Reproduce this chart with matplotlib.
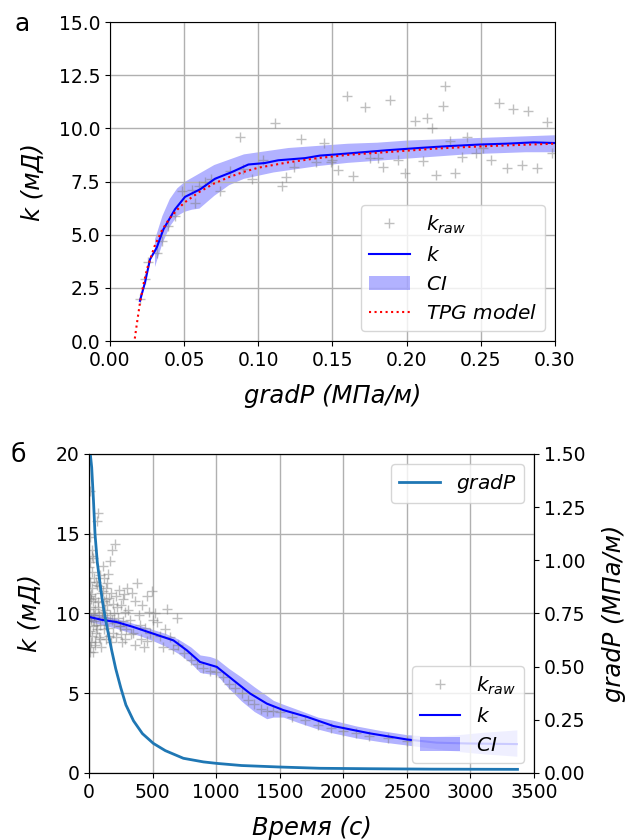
import matplotlib
matplotlib.use("Agg")
import matplotlib.pyplot as plt
import numpy as np
from matplotlib.ticker import FormatStrFormatter

# ---------------- panel a data ----------------
raw_gx = [0.0202, 0.0236, 0.0259, 0.032, 0.035, 0.0394, 0.0438, 0.0483, 0.0573, 0.055,
          0.064, 0.074, 0.081, 0.0877, 0.0955, 0.103, 0.111, 0.116, 0.119, 0.129,
          0.124, 0.139, 0.144, 0.149, 0.1596, 0.172, 0.189, 0.226, 0.2247, 0.2057,
          0.2135, 0.217, 0.262, 0.272, 0.282, 0.2945, 0.2405, 0.229, 0.1495, 0.154,
          0.164, 0.175, 0.181, 0.184, 0.194, 0.199, 0.211, 0.220, 0.2326, 0.237,
          0.247, 0.257, 0.2675, 0.2776, 0.2877, 0.2517, 0.298, 0.068, 0.090, 0.060]
raw_gk = [2.0, 2.9, 3.7, 4.15, 4.7, 5.4, 5.9, 7.05, 6.5, 7.1,
          7.5, 7.05, 8.0, 9.6, 7.6, 8.5, 10.25, 7.3, 7.7, 9.5,
          8.2, 8.4, 9.3, 8.4, 11.5, 11.0, 11.35, 11.97, 11.06, 10.33,
          10.5, 10.0, 11.2, 10.9, 10.8, 10.3, 9.6, 9.4, 8.5, 8.06,
          7.75, 8.6, 8.6, 8.2, 8.5, 7.9, 8.45, 7.83, 7.9, 8.66,
          8.85, 8.5, 8.14, 8.3, 8.14, 9.07, 8.85, 7.6, 8.1, 7.3]

k_gx = [0.0202, 0.0236, 0.027, 0.0315, 0.036, 0.0438, 0.0506, 0.0607, 0.0708, 0.082,
        0.0933, 0.1045, 0.1135, 0.1315, 0.1416, 0.1517, 0.164, 0.1866, 0.209, 0.227,
        0.2495, 0.2675, 0.2854, 0.30]
k_gk = [1.89, 2.75, 3.84, 4.39, 5.25, 6.19, 6.78, 7.13, 7.63, 7.94,
        8.30, 8.37, 8.50, 8.60, 8.72, 8.77, 8.84, 8.97, 9.08, 9.16,
        9.24, 9.28, 9.34, 9.31]

ci_gx = [0.030, 0.035, 0.040, 0.045, 0.050, 0.055, 0.060, 0.065, 0.070, 0.080, 0.090,
         0.100, 0.110, 0.120, 0.140, 0.160, 0.180, 0.200, 0.220, 0.240, 0.260, 0.280, 0.300]
ci_glo = [3.5, 4.6, 5.4, 5.9, 6.1, 6.2, 6.25, 6.55, 6.85, 7.35, 7.65,
          7.8, 7.95, 8.05, 8.25, 8.4, 8.5, 8.6, 8.7, 8.8, 8.85, 8.9, 8.9]
ci_ghi = [4.8, 5.9, 6.7, 7.2, 7.5, 7.7, 7.9, 8.1, 8.3, 8.55, 8.8,
          8.9, 9.0, 9.1, 9.2, 9.3, 9.35, 9.45, 9.5, 9.55, 9.6, 9.65, 9.7]

tpg_gx = [0.0160, 0.0165, 0.018, 0.020, 0.0225, 0.025, 0.030, 0.035, 0.040, 0.045, 0.050,
          0.060, 0.070, 0.080, 0.090, 0.100, 0.120, 0.140, 0.160, 0.180, 0.200,
          0.220, 0.240, 0.260, 0.280, 0.300]
tpg_gk = [-0.4, 0.0, 0.75, 1.7, 2.65, 3.4, 4.45, 5.2, 5.75, 6.15, 6.5,
          7.0, 7.4, 7.7, 7.95, 8.15, 8.4, 8.6, 8.75, 8.85, 8.95,
          9.05, 9.12, 9.18, 9.23, 9.28]

# ---------------- panel b data ----------------
raw_t = [5, 8, 10, 12, 6, 15, 9, 18, 4, 20, 22, 25, 14, 28, 30, 26, 11, 8, 60, 73,
         35, 40, 45, 50, 38, 55, 48, 34, 47, 65, 70, 80, 85, 75, 90, 95, 100, 62, 88, 98,
         110, 120, 130, 139, 152, 165, 178, 205, 115, 125, 140, 150, 160, 170, 118, 132,
         145, 155, 168, 185, 195, 108, 190, 175, 200,
         210, 220, 230, 240, 244, 250, 260, 270, 280, 290, 296, 215, 235, 255, 265, 285, 275,
         310, 320, 330, 349, 360, 375, 390, 400, 410, 420, 440, 454, 454, 470, 480, 493, 500,
         340, 365, 430,
         520, 532, 560, 585, 600, 611, 640, 660, 690, 700,
         750, 800, 850, 900, 950, 1000, 1050, 1100, 1150, 1200, 1250, 1300, 1350, 1400,
         1450, 1500, 1600, 1700, 1800, 1900, 2000, 2100, 2200, 2350, 2500,
         3, 7, 16, 24, 32, 42, 52, 58, 68, 78, 105, 135, 180]
raw_k = [14.8, 13.2, 12.0, 11.2, 10.4, 9.7, 8.9, 8.2, 7.6, 14.0, 12.6, 11.6, 10.9, 10.0, 9.2,
         8.6, 7.9, 17.7, 15.8, 16.3,
         13.5, 12.2, 11.0, 10.3, 9.5, 8.8, 8.2, 7.6, 8.0, 11.8, 10.7, 9.9, 9.3, 8.5, 12.4, 11.3,
         10.1, 9.0, 8.4, 7.9,
         13.0, 12.2, 11.6, 11.9, 12.5, 13.3, 13.96, 14.35, 10.8, 10.2, 9.7, 9.1, 8.6, 8.2, 9.0,
         8.4, 10.5, 11.0, 9.9, 10.6, 9.4, 11.4, 8.8, 11.3, 10.0,
         11.1, 10.4, 9.7, 9.2, 9.2, 8.7, 8.2, 10.9, 10.1, 9.0, 11.6, 8.5, 11.5, 10.5, 9.5, 8.4, 11.2,
         10.2, 9.6, 8.7, 8.8, 10.8, 11.9, 9.9, 9.3, 8.4, 10.5, 9.1, 8.3, 11.1, 10.1, 8.8, 11.4, 9.6,
         11.3, 8.0, 7.9,
         10.0, 9.45, 8.6, 7.9, 9.0, 10.3, 8.5, 7.8, 9.7, 8.0,
         7.5, 7.1, 6.8, 6.6, 6.4, 6.3, 6.0, 5.6, 5.3, 5.0, 4.6, 4.3, 4.0, 3.9,
         3.9, 3.8, 3.5, 3.3, 3.0, 2.8, 2.6, 2.5, 2.3, 2.2, 2.0,
         12.9, 11.1, 9.6, 13.6, 10.8, 9.9, 12.0, 9.3, 10.4, 11.7, 9.8, 10.9, 9.6]

k_t = [0, 8, 100, 218, 349, 506, 664, 769, 873, 1005, 1136, 1267, 1398, 1529, 1713,
       1923, 2211, 2500, 2735, 2971, 3365]
k_tk = [9.85, 9.77, 9.6, 9.46, 9.15, 8.73, 8.31, 7.69, 6.96, 6.65, 5.81, 4.98, 4.35, 3.94,
        3.52, 2.94, 2.48, 2.1, 1.9, 1.85, 1.81]

ci_t = [0, 100, 200, 300, 400, 500, 600, 700, 800, 873, 950, 1005, 1100, 1200, 1300, 1398,
        1450, 1529, 1650, 1800, 1923, 2100, 2300, 2500, 2700, 2900, 3100, 3365]
ci_tlo = [9.5, 9.3, 9.1, 8.85, 8.6, 8.3, 7.95, 7.5, 6.9, 6.3, 6.2, 6.15, 5.3, 4.5, 3.85, 3.4,
          3.5, 3.5, 3.15, 2.75, 2.5, 2.2, 1.95, 1.75, 1.55, 1.35, 1.2, 1.05]
ci_thi = [10.1, 9.9, 9.7, 9.5, 9.25, 9.0, 8.75, 8.4, 7.9, 7.4, 7.3, 7.15, 6.55, 6.0, 5.4, 4.85,
          4.55, 4.3, 3.95, 3.5, 3.3, 2.95, 2.65, 2.4, 2.3, 2.4, 2.55, 2.7]

gp_t = [0, 10, 21, 35, 47, 65, 87, 105, 126, 150, 178, 210, 250, 290, 350, 420, 506, 600,
        742, 900, 1005, 1200, 1500, 1817, 2200, 2700, 3370]
gp_v = [1.56, 1.50, 1.436, 1.28, 1.124, 0.99, 0.889, 0.81, 0.733, 0.66, 0.577, 0.49, 0.40,
        0.32, 0.245, 0.185, 0.139, 0.105, 0.069, 0.052, 0.045, 0.035, 0.028, 0.022, 0.020,
        0.018, 0.017]

# ---------------- drawing ----------------
TICK = 13.5
LAB = 17.5
LEG = 14.5

fig = plt.figure(figsize=(6.27, 8.4), dpi=100)
ax1 = fig.add_axes([0.1754, 0.5940, 0.7097, 0.3798])
ax2 = fig.add_axes([0.1420, 0.0798, 0.7097, 0.3798])

# panel a
ax1.plot(raw_gx, raw_gk, '+', color='gray', alpha=0.5, ms=7, label='$k_{raw}$')
ax1.plot(k_gx, k_gk, '-', color='blue', lw=1.5, label='$k$')
ax1.fill_between(ci_gx, ci_glo, ci_ghi, color='blue', alpha=0.3, lw=0, label='$CI$')
ax1.plot(tpg_gx, tpg_gk, ':', color='red', lw=1.5, label='$TPG\\ model$')
ax1.set_xlim(0, 0.30)
ax1.set_ylim(0, 15)
ax1.set_xticks(np.arange(0, 0.301, 0.05))
ax1.set_yticks(np.arange(0, 15.01, 2.5))
ax1.xaxis.set_major_formatter(FormatStrFormatter('%.2f'))
ax1.yaxis.set_major_formatter(FormatStrFormatter('%.1f'))
ax1.grid(True, color='#b0b0b0', lw=1.0)
ax1.tick_params(labelsize=TICK)
ax1.set_xlabel('gradP (МПа/м)', fontsize=LAB, style='italic', labelpad=10)
ax1.set_ylabel('k (мД)', fontsize=LAB, style='italic', labelpad=10)
ax1.legend(loc='lower right', fontsize=LEG)

# panel b
ax2.plot(raw_t, raw_k, '+', color='gray', alpha=0.5, ms=7, label='$k_{raw}$')
ax2.plot(k_t, k_tk, '-', color='blue', lw=1.5, label='$k$')
ax2.fill_between(ci_t, ci_tlo, ci_thi, color='blue', alpha=0.3, lw=0, label='$CI$')
ax2.set_xlim(0, 3500)
ax2.set_ylim(0, 20)
ax2.set_xticks(np.arange(0, 3501, 500))
ax2.set_yticks(np.arange(0, 20.1, 5))
ax2.grid(True, color='#b0b0b0', lw=1.0)
ax2.tick_params(labelsize=TICK)
ax2.set_xlabel('Время (с)', fontsize=LAB, style='italic', labelpad=10)
ax2.set_ylabel('k (мД)', fontsize=LAB, style='italic', labelpad=10)
ax2.legend(loc='lower right', fontsize=LEG)

ax3 = ax2.twinx()
ax3.plot(gp_t, gp_v, '-', color='#1f77b4', lw=2, label='$gradP$')
ax3.set_ylim(0, 1.5)
ax3.set_yticks(np.arange(0, 1.501, 0.25))
ax3.yaxis.set_major_formatter(FormatStrFormatter('%.2f'))
ax3.tick_params(labelsize=TICK)
ax3.set_ylabel('gradP (МПа/м)', fontsize=LAB, style='italic', labelpad=12)
ax3.legend(loc='upper right', fontsize=LEG)

fig.text(0.036, 0.972, 'а', fontsize=18, ha='center', va='center')
fig.text(0.029, 0.458, 'б', fontsize=18, ha='center', va='center')

fig.savefig('out.png', dpi=100)
